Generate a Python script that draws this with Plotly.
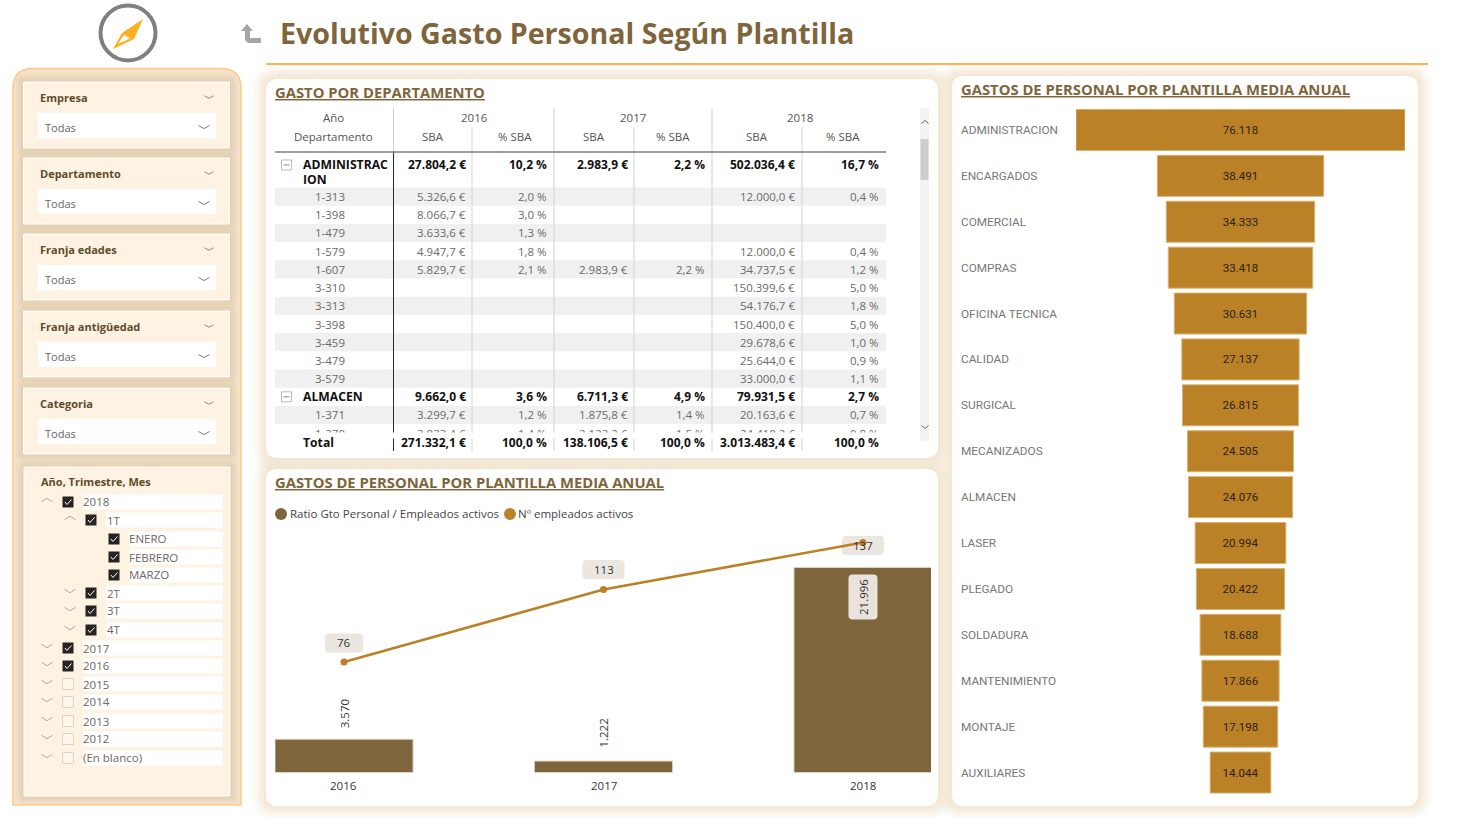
import plotly.graph_objects as go

W, H = 1457, 818

# Combo chart data
years = ['2016', '2017', '2018']
ratio_gto = [3570, 1222, 21996]
empleados = [76, 113, 137]

# Funnel data
funnel_names = ['ADMINISTRACION', 'ENCARGADOS', 'COMERCIAL', 'COMPRAS', 'OFICINA TECNICA',
                'CALIDAD', 'SURGICAL', 'MECANIZADOS', 'ALMACEN', 'LASER', 'PLEGADO',
                'SOLDADURA', 'MANTENIMIENTO', 'MONTAJE', 'AUXILIARES']
funnel_vals = [76118, 38491, 34333, 33418, 30631, 27137, 26815, 24505, 24076,
               20994, 20422, 18688, 17866, 17198, 14044]

# Table data
row_names = ['1-313', '1-398', '1-479', '1-579', '1-607', '3-310', '3-313', '3-398',
             '3-459', '3-479', '3-579', 'ALMACEN', '1-371', '1-370']
sba_2016 = [5326.6, 8066.7, 3633.6, 4947.7, 5829.7, None, None, None, None, None, None,
            9662.0, 3299.7, 3833.4]
pct_2016 = [2.0, 3.0, 1.3, 1.8, 2.1, None, None, None, None, None, None, 3.6, 1.2, 1.4]
sba_2017 = [None, None, None, None, 2983.9, None, None, None, None, None, None,
            6711.3, 1875.8, 2123.2]
pct_2017 = [None, None, None, None, 2.2, None, None, None, None, None, None, 4.9, 1.4, 1.5]
sba_2018 = [12000.0, None, None, 12000.0, 34737.5, 150399.6, 54176.7, 150400.0, 29678.6,
            25644.0, 33000.0, 79931.5, 20163.6, 24410.2]
pct_2018 = [0.4, None, None, 0.4, 1.2, 5.0, 1.8, 5.0, 1.0, 0.9, 1.1, 2.7, 0.7, 0.8]
admin_row = [27804.2, 10.2, 2983.9, 2.2, 502036.4, 16.7]
total_row = [271332.1, 100.0, 138106.5, 100.0, 3013483.4, 100.0]

# Slicers
slicer_titles = ['Empresa', 'Departamento', 'Franja edades', 'Franja antigüedad', 'Categoria']
slicer_tops = [82, 158, 234, 311, 388]
tree_labels = ['2018', '1T', 'ENERO', 'FEBRERO', 'MARZO', '2T', '3T', '4T', '2017', '2016',
               '2015', '2014', '2013', '2012', '(En blanco)']
tree_levels = [0, 1, 2, 2, 2, 1, 1, 1, 0, 0, 0, 0, 0, 0, 0]
tree_checked = [1, 1, 1, 1, 1, 1, 1, 1, 1, 1, 0, 0, 0, 0, 0]
tree_open = [1, 1, None, None, None, 0, 0, 0, 0, 0, 0, 0, 0, 0, 0]
tree_rows_y = [502, 520, 539, 557, 575, 593, 611, 630, 648, 666, 684, 702, 721, 739, 758]

BROWN = '#7E653B'
GOLD = '#BB8127'
FONT = 'Open Sans'

shapes, notes = [], []


def X(px):
    return round(px / W, 5)


def Y(py):
    return round(1 - py / H, 5)


def path_shape(d, fill=None, line=None, width=1, layer='below'):
    shapes.append(dict(type='path', path=d, xref='paper', yref='paper', layer=layer,
                       fillcolor=fill or 'rgba(0,0,0,0)',
                       line=dict(color=line or 'rgba(0,0,0,0)', width=width if line else 0)))


def poly(points, close=True):
    d = 'M ' + ' L '.join(f'{X(a)},{Y(b)}' for a, b in points)
    return d + (' Z' if close else '')


def rrect(x0, y0, x1, y1, r=0, rb=None):
    rb = r if rb is None else rb
    return (f'M {X(x0 + r)},{Y(y0)} L {X(x1 - r)},{Y(y0)} Q {X(x1)},{Y(y0)} {X(x1)},{Y(y0 + r)} '
            f'L {X(x1)},{Y(y1 - rb)} Q {X(x1)},{Y(y1)} {X(x1 - rb)},{Y(y1)} '
            f'L {X(x0 + rb)},{Y(y1)} Q {X(x0)},{Y(y1)} {X(x0)},{Y(y1 - rb)} '
            f'L {X(x0)},{Y(y0 + r)} Q {X(x0)},{Y(y0)} {X(x0 + r)},{Y(y0)} Z')


def box(x0, y0, x1, y1, fill=None, line=None, width=1, r=0, layer='below', rb=None):
    path_shape(rrect(x0, y0, x1, y1, r, rb), fill, line, width, layer)


def seg(x0, y0, x1, y1, color, width=1):
    shapes.append(dict(type='line', xref='paper', yref='paper', layer='below',
                       x0=X(x0), y0=Y(y0), x1=X(x1), y1=Y(y1),
                       line=dict(color=color, width=width)))


def chevron(cx, cy, half, up=False, color='#8a8a8a', height=None):
    h = (height or half * 0.55) * (-1 if up else 1)
    path_shape(poly([(cx - half, cy - h / 2), (cx, cy + h / 2), (cx + half, cy - h / 2)], close=False),
               line=color, width=1)


def text(x, y, s, size=11, color='#666666', anchor='left', bold=False, family=FONT, weight=None, angle=0):
    notes.append(dict(xref='paper', yref='paper', x=X(x), y=Y(y), text=s, showarrow=False,
                      xanchor=anchor, yanchor='middle', borderpad=0, textangle=angle,
                      font=dict(size=size, color=color, family=family,
                                weight=weight or ('bold' if bold else 'normal'))))


def eur(v):
    if v is None:
        return ''
    s = f'{v:,.1f}'.replace(',', '#').replace('.', ',').replace('#', '.')
    return s + ' €'


def pct(v):
    return '' if v is None else f'{v:.1f}'.replace('.', ',') + ' %'


def miles(v):
    return f'{v:,}'.replace(',', '.')


# Soft glow behind the white panels
panels = [(266, 79, 938, 458), (266, 469, 938, 806), (952, 76, 1418, 806)]
for grow, alpha in [(14, 0.10), (11, 0.14), (8, 0.2), (5, 0.25), (2, 0.3)]:
    for x0, y0, x1, y1 in panels:
        box(x0 - grow, y0 - grow, x1 + grow, y1 + grow, f'rgba(240,222,195,{alpha})', r=10 + grow)
for x0, y0, x1, y1 in panels:
    box(x0, y0, x1, y1, '#FFFFFF', r=12)

# Header
seg(266, 64, 1428, 64, '#FFB24D', 2)
text(279.5, 33, 'Evolutivo Gasto Personal Según Plantilla', 28.6, BROWN, bold=True)
shapes.append(dict(type='circle', xref='paper', yref='paper', layer='below',
                   x0=X(100.5), x1=X(155.5), y0=Y(60.5), y1=Y(5.5),
                   line=dict(color='#808080', width=4), fillcolor='#FFFFFF'))
path_shape(poly([(143, 19), (113, 49), (122, 33), (134, 39), (113, 49)]), '#FFAE1F')
path_shape(poly([(143, 19), (122, 33), (134, 39)]), '#FFAE1F')
path_shape(poly([(118, 44), (124, 35), (130, 38.5)]), '#FFFFFF')
path_shape(poly([(241, 31), (247, 24), (253, 31), (250, 31), (250, 38), (261, 38), (261, 43),
                 (248, 43), (245, 40), (245, 31)]), '#A6A6A6')

# Slicer column
box(13, 68.5, 241, 805, '#F4E3CA', '#FCCB85', 1.5, r=20, rb=0)


def card_shadow(x0, y0, x1, y1):
    for grow, alpha in [(8, 0.12), (5, 0.16), (2, 0.2)]:
        box(x0 - grow, y0 - grow, x1 + grow, y1 + grow, f'rgba(205,180,145,{alpha})', r=grow)


for top in slicer_tops:
    card_shadow(23.5, top, 229.5, top + 66)
card_shadow(24, 467, 230, 796)
for title, top in zip(slicer_titles, slicer_tops):
    box(23.5, top, 229.5, top + 66, '#FEF3E3', '#FFFFFF', 1)
    text(39.5, top + 15.5, title, 11, '#5F4B2A', bold=True)
    chevron(209, top + 15, 4.5)
    box(38, top + 31, 216, top + 56, '#FFFFFF')
    text(43.5, top + 45.5, 'Todas', 11, '#666666')
    chevron(204, top + 45, 5.5, color='#777777')

box(24, 467, 230, 796, '#FEF3E3', '#FFFFFF', 1)
text(40, 482, 'Año, Trimestre, Mes', 11, '#5F4B2A', bold=True)
for label, lvl, chk, op, yy in zip(tree_labels, tree_levels, tree_checked, tree_open, tree_rows_y):
    cb = 68 + 23 * lvl
    if lvl == 2:
        cb = 114
    if op is not None:
        chevron(47 + 23 * lvl, yy - 2, 5.5, up=bool(op), color='#AAAAAA', height=3.5)
    if chk:
        box(cb - 5.5, yy - 5.5, cb + 5.5, yy + 5.5, '#252423')
        path_shape(poly([(cb - 3, yy), (cb - 1, yy + 2.5), (cb + 3.5, yy - 2.5)], close=False),
                   line='#FFFFFF', width=1)
    else:
        box(cb - 5.5, yy - 5.5, cb + 5.5, yy + 5.5, '#FEF6EA', '#D8D3CC', 1)
    box(cb + 15, yy - 7.5, 222.5, yy + 7.5, '#FFFFFF')
    text(cb + 14.5, yy, label, 11.5, '#6E6762')

# Table
text(274.5, 92.5, '<u>GASTO POR DEPARTAMENTO</u>', 14.8, BROWN, bold=True)
col_right = [467.5, 548, 628.5, 706, 796.5, 880]
row_y0 = 187.5
row_h = 18.2
for i, name in enumerate(row_names):
    if i % 2 == 0:
        box(275, row_y0 + i * row_h, 886, min(row_y0 + (i + 1) * row_h, 432), '#F0F0F0')

for xx in (472, 634, 802):
    seg(xx, 127, xx, 451, '#D4D4D4', 1)
for xx in (554, 712):
    seg(xx, 108, xx, 451, '#CFCFCF', 1)
seg(393.5, 108, 393.5, 152, '#CFCFCF', 1)
seg(393.5, 152, 393.5, 451, '#1F2A44', 1)
seg(275, 152, 886, 152, '#7C7C84', 1.5)

text(333.5, 118, 'Año', 11.5, '#555555', 'center')
text(333.5, 137, 'Departamento', 11.5, '#555555', 'center')
for label, cx in zip(years, (474, 633, 800)):
    text(cx, 118, label, 11.5, '#555555', 'center')
for label, cx in zip(['SBA', '% SBA'] * 3, (433, 515, 594, 673, 757, 843)):
    text(cx, 137, label, 11.5, '#555555', 'center')

text(302, 164, 'ADMINISTRAC', 12.2, '#111111', bold=True)
text(302, 179, 'ION', 12.2, '#111111', bold=True)
for j, v in enumerate(admin_row):
    text(col_right[j], 164, eur(v) if j % 2 == 0 else pct(v), 12, '#111111', 'right', bold=True)

columns = [sba_2016, pct_2016, sba_2017, pct_2017, sba_2018, pct_2018]
for i, name in enumerate(row_names):
    yy = row_y0 + (i + 0.5) * row_h
    strong = name == 'ALMACEN'
    color = '#111111' if strong else '#6A6A6A'
    text(302 if strong else 314, yy, name, 12.2 if strong else 11.5, color, bold=strong)
    for j, col in enumerate(columns):
        s = eur(col[i]) if j % 2 == 0 else pct(col[i])
        if s:
            text(col_right[j], yy, s, 12 if strong else 11.5, color, 'right', bold=strong)

for yy in (165, row_y0 + 11.5 * row_h):
    box(281.5, yy - 5, 291.5, yy + 5, '#FFFFFF', '#BBBBBB', 1)
    seg(283.5, yy, 289.5, yy, '#888888', 1)

# cover that cuts the half visible row above the total
notes.append(dict(xref='paper', yref='paper', x=X(275), y=Y(431.5), xanchor='left', yanchor='top',
                  text=' ', showarrow=False, width=611, height=5, bgcolor='#FFFFFF', borderpad=0))
text(302, 443, 'Total', 12.2, '#111111', bold=True)
for j, v in enumerate(total_row):
    text(col_right[j], 443, eur(v) if j % 2 == 0 else pct(v), 12, '#111111', 'right', bold=True)

# Scroll bar
box(920, 108, 929, 441, '#F3F3F3')
box(920.5, 139, 928.5, 180, '#CDCDCD')
chevron(925, 122, 3.5, up=True, color='#666666', height=3)
chevron(925, 427, 3.5, color='#666666', height=3)

# Combo chart text
text(274.5, 482.5, '<u>GASTOS DE PERSONAL POR PLANTILLA MEDIA ANUAL</u>', 14.8, BROWN, bold=True)
shapes.append(dict(type='circle', xref='paper', yref='paper', layer='below',
                   x0=X(275), x1=X(287), y0=Y(520), y1=Y(508), fillcolor=BROWN, line=dict(width=0)))
text(288.5, 514, 'Ratio Gto Personal / Empleados activos', 11.5, '#444444')
shapes.append(dict(type='circle', xref='paper', yref='paper', layer='below',
                   x0=X(504), x1=X(516), y0=Y(520), y1=Y(508), fillcolor=GOLD, line=dict(width=0)))
text(517.5, 514, 'Nº empleados activos', 11.5, '#444444')

# Funnel text
text(960.5, 89, '<u>GASTOS DE PERSONAL POR PLANTILLA MEDIA ANUAL</u>', 14.8, BROWN, bold=True)

# Pixel frame of the combo chart
bar_bottom, bar_top = 772.5, 535
bar_max = 25484
line_min, line_max = 19.6, 140.8


def bar_y(v):
    return bar_bottom - v / bar_max * (bar_bottom - bar_top)


def line_y(v):
    return bar_bottom - (v - line_min) / (line_max - line_min) * (bar_bottom - bar_top)


year_x = [344, 603.5, 863]
for xx, v, dy in zip(year_x, ratio_gto, (-26, -28, 29.5)):
    yy = bar_y(v) + dy
    if dy > 0:
        box(xx - 14.5, yy - 22.5, xx + 14.5, yy + 22.5, '#E9E3DB', r=4, layer='above')
    text(xx, yy, miles(v), 11.5, '#333333', 'center', angle=-90)
for xx, v, dy in zip(year_x, empleados, (-19, -20, 3)):
    yy = line_y(v) + dy
    half = 20 if v < 100 else 22
    box(xx - half + 1, yy - 9.5, xx + half - 1, yy + 9.5, '#EBE6DF', r=4)
    text(xx, yy, str(v), 11.5, '#333333', 'center')
for xx, label in zip(year_x, years):
    text(xx, 786, label, 11.5, '#333333', 'center')

fig = go.Figure()
fig.add_trace(go.Bar(x=years, y=ratio_gto, width=0.532, marker=dict(color=BROWN, line=dict(color='#D9D0C0', width=1)),
                     hoverinfo='x+y', showlegend=False, xaxis='x', yaxis='y'))
fig.add_trace(go.Scatter(x=years, y=empleados, mode='lines+markers', line=dict(color=GOLD, width=2.5),
                         marker=dict(color=GOLD, size=7), showlegend=False, xaxis='x', yaxis='y2'))
fig.add_trace(go.Funnel(y=funnel_names, x=funnel_vals, orientation='h', xaxis='x3', yaxis='y3',
                        text=[miles(v) for v in funnel_vals], textinfo='text', textposition='inside',
                        insidetextanchor='middle', textangle=0, insidetextfont=dict(size=11.5, color='#2B2110', family='Roboto'),
                        marker=dict(color=GOLD, line=dict(color='#D9B273', width=1)),
                        connector=dict(visible=False), showlegend=False))

for name in funnel_names:
    notes.append(dict(xref='paper', yref='y3', x=X(960.5), y=name, text=name, showarrow=False,
                      xanchor='left', yanchor='middle', borderpad=0,
                      font=dict(size=11.8, color='#777777', family='Roboto')))

hidden = dict(visible=False, showgrid=False, zeroline=False, fixedrange=True)
fig.update_layout(
    width=W, height=H, margin=dict(l=0, r=0, t=0, b=0), autosize=False,
    paper_bgcolor='#FFFFFF', plot_bgcolor='rgba(0,0,0,0)', font=dict(family=FONT),
    funnelgap=0.107, barmode='overlay',
    xaxis=dict(hidden, type='category', domain=[X(275), X(931)], range=[-0.266, 2.262], anchor='y'),
    yaxis=dict(hidden, domain=[Y(bar_bottom), Y(bar_top)], range=[0, bar_max], anchor='x'),
    yaxis2=dict(hidden, domain=[Y(bar_bottom), Y(bar_top)], range=[line_min, line_max], overlaying='y', anchor='x'),
    xaxis3=dict(hidden, domain=[X(1076), X(1405)], range=[-38059, 38059], anchor='y3'),
    yaxis3=dict(hidden, domain=[Y(795.5), Y(107)], range=[14.5, -0.5], type='category', anchor='x3'),
    shapes=shapes, annotations=notes,
)
fig.write_html('out.html', config=dict(displayModeBar=False),
               post_script="document.body.style.margin='0';document.body.style.overflow='hidden';")
